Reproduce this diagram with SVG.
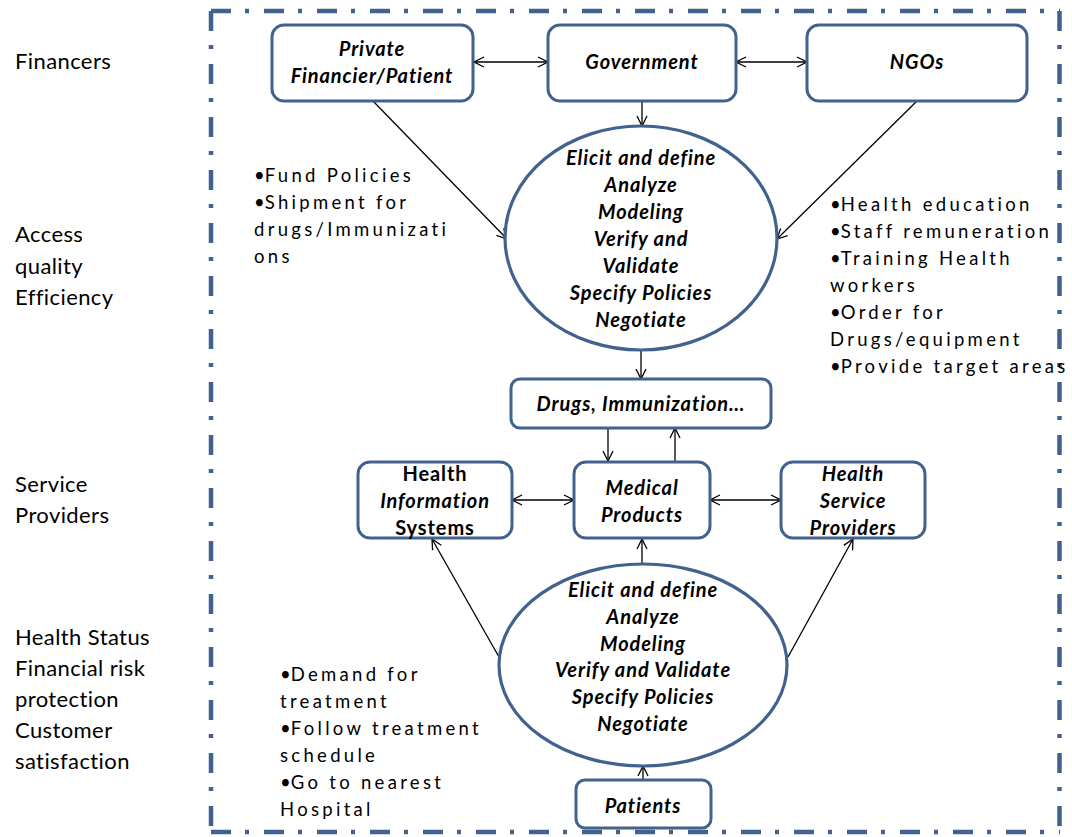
<svg xmlns="http://www.w3.org/2000/svg" width="1072" height="837" viewBox="0 0 1072 837">
  <style>
    .frame { fill: none; stroke: #41628f; stroke-width: 4.5; stroke-dasharray: 20 14 4 15; }
    .box { fill: #ffffff; stroke: #41628f; stroke-width: 3; }
    .oval { fill: #ffffff; stroke: #41628f; stroke-width: 3.2; }
    .lbl { font-family: Lato, "Liberation Sans", sans-serif; font-size: 22px; letter-spacing: 0.4px; fill: #000; }
    .note { font-family: Lato, "Liberation Sans", sans-serif; font-size: 18.5px; letter-spacing: 3.3px; fill: #000; }
    .dot { letter-spacing: 0; }
    .bi { font-family: Lato, "Liberation Sans", sans-serif; font-size: 20px; letter-spacing: 0.9px; font-weight: bold; font-style: italic; fill: #000; text-anchor: middle; }
    .b { font-style: normal; }
    .conn { stroke: #000; stroke-width: 1.3; fill: none; }
  </style>
  <defs>
    <marker id="arrow" viewBox="0 0 12 12" refX="11" refY="6" markerWidth="12" markerHeight="12" markerUnits="userSpaceOnUse" orient="auto-start-reverse">
      <path d="M1,1 L11,6 L1,11" fill="none" stroke="#000" stroke-width="1.3"/>
    </marker>
  </defs>

  <rect width="1072" height="837" fill="#ffffff"/>

  <!-- dash-dot boundary -->
  <path class="frame" d="M211,11 H1060"/>
  <path class="frame" d="M211,832 H1060"/>
  <path class="frame" d="M211,11 V832"/>
  <path class="frame" d="M1059.5,11 V832"/>

  <!-- row labels -->
  <g id="row-labels">
    <text class="lbl" x="15" y="69">Financers</text>
    <text class="lbl" x="15" y="242">Access</text>
    <text class="lbl" x="15" y="274">quality</text>
    <text class="lbl" x="15" y="305">Efficiency</text>
    <text class="lbl" x="15" y="492">Service</text>
    <text class="lbl" x="15" y="523">Providers</text>
    <text class="lbl" x="15" y="645">Health Status</text>
    <text class="lbl" x="15" y="676">Financial risk</text>
    <text class="lbl" x="15" y="707">protection</text>
    <text class="lbl" x="15" y="738">Customer</text>
    <text class="lbl" x="15" y="769">satisfaction</text>
  </g>

  <!-- connectors -->
  <g id="connectors">
    <line class="conn" x1="474" y1="62" x2="548" y2="62" marker-start="url(#arrow)" marker-end="url(#arrow)"/>
    <line class="conn" x1="736" y1="62" x2="807" y2="62" marker-start="url(#arrow)" marker-end="url(#arrow)"/>
    <line class="conn" x1="642" y1="101" x2="642" y2="126" marker-end="url(#arrow)"/>
    <line class="conn" x1="373" y1="101" x2="507" y2="239" marker-end="url(#arrow)"/>
    <line class="conn" x1="917" y1="101" x2="777" y2="239" marker-end="url(#arrow)"/>
    <line class="conn" x1="641" y1="350" x2="641" y2="379" marker-end="url(#arrow)"/>
    <line class="conn" x1="608" y1="428" x2="608" y2="461" marker-end="url(#arrow)"/>
    <line class="conn" x1="675" y1="461" x2="675" y2="428" marker-end="url(#arrow)"/>
    <line class="conn" x1="512" y1="500" x2="574" y2="500" marker-start="url(#arrow)" marker-end="url(#arrow)"/>
    <line class="conn" x1="710" y1="500" x2="781" y2="500" marker-start="url(#arrow)" marker-end="url(#arrow)"/>
    <line class="conn" x1="642" y1="563" x2="642" y2="539" marker-end="url(#arrow)"/>
    <line class="conn" x1="499" y1="657" x2="432" y2="539" marker-end="url(#arrow)"/>
    <line class="conn" x1="788" y1="657" x2="853" y2="539" marker-end="url(#arrow)"/>
    <line class="conn" x1="643" y1="780" x2="643" y2="766" marker-end="url(#arrow)"/>
  </g>

  <!-- financers -->
  <g id="private-financier">
    <rect class="box" x="272" y="25" width="201" height="76" rx="12"/>
    <text class="bi" x="372" y="56">Private</text>
    <text class="bi" x="372" y="83">Financier/Patient</text>
  </g>
  <g id="government">
    <rect class="box" x="548" y="25" width="188" height="76" rx="12"/>
    <text class="bi" x="642" y="69">Government</text>
  </g>
  <g id="ngos">
    <rect class="box" x="807" y="25" width="220" height="76" rx="12"/>
    <text class="bi" x="917" y="69">NGOs</text>
  </g>

  <!-- upper process -->
  <g id="process-upper">
    <ellipse class="oval" cx="641" cy="238" rx="136" ry="112"/>
    <text class="bi" x="641" y="165">Elicit and define</text>
    <text class="bi" x="641" y="192">Analyze</text>
    <text class="bi" x="641" y="219">Modeling</text>
    <text class="bi" x="641" y="246">Verify and</text>
    <text class="bi" x="641" y="273">Validate</text>
    <text class="bi" x="641" y="300">Specify Policies</text>
    <text class="bi" x="641" y="327">Negotiate</text>
  </g>

  <g id="notes-financier">
    <text class="note" x="254" y="182"><tspan class="dot">•</tspan>Fund Policies</text>
    <text class="note" x="254" y="209"><tspan class="dot">•</tspan>Shipment for</text>
    <text class="note" x="254" y="236">drugs/Immunizati</text>
    <text class="note" x="254" y="263">ons</text>
  </g>

  <g id="notes-ngo">
    <text class="note" x="830" y="211"><tspan class="dot">•</tspan>Health education</text>
    <text class="note" x="830" y="238"><tspan class="dot">•</tspan>Staff remuneration</text>
    <text class="note" x="830" y="265"><tspan class="dot">•</tspan>Training Health</text>
    <text class="note" x="830" y="292">workers</text>
    <text class="note" x="830" y="319"><tspan class="dot">•</tspan>Order for</text>
    <text class="note" x="830" y="346">Drugs/equipment</text>
    <text class="note" x="830" y="373"><tspan class="dot">•</tspan>Provide target areas</text>
  </g>

  <g id="drugs">
    <rect class="box" x="511" y="379" width="260" height="49" rx="9"/>
    <text class="bi" x="641" y="411">Drugs, Immunization…</text>
  </g>

  <!-- service providers -->
  <g id="health-information-systems">
    <rect class="box" x="358" y="462" width="154" height="76" rx="12"/>
    <text class="bi b" x="435" y="481">Health</text>
    <text class="bi" x="435" y="508">Information</text>
    <text class="bi b" x="435" y="535">Systems</text>
  </g>
  <g id="medical-products">
    <rect class="box" x="574" y="462" width="136" height="76" rx="12"/>
    <text class="bi" x="642" y="495">Medical</text>
    <text class="bi" x="642" y="522">Products</text>
  </g>
  <g id="health-service-providers">
    <rect class="box" x="781" y="462" width="144" height="76" rx="12"/>
    <text class="bi" x="853" y="481">Health</text>
    <text class="bi" x="853" y="508">Service</text>
    <text class="bi" x="853" y="535">Providers</text>
  </g>

  <!-- lower process -->
  <g id="process-lower">
    <ellipse class="oval" cx="643" cy="665" rx="144" ry="101"/>
    <text class="bi" x="643" y="597">Elicit and define</text>
    <text class="bi" x="643" y="624">Analyze</text>
    <text class="bi" x="643" y="651">Modeling</text>
    <text class="bi" x="643" y="677">Verify and Validate</text>
    <text class="bi" x="643" y="704">Specify Policies</text>
    <text class="bi" x="643" y="731">Negotiate</text>
  </g>

  <g id="notes-patient">
    <text class="note" x="280" y="681"><tspan class="dot">•</tspan>Demand for</text>
    <text class="note" x="280" y="708">treatment</text>
    <text class="note" x="280" y="735"><tspan class="dot">•</tspan>Follow treatment</text>
    <text class="note" x="280" y="762">schedule</text>
    <text class="note" x="280" y="789"><tspan class="dot">•</tspan>Go to nearest</text>
    <text class="note" x="280" y="816">Hospital</text>
  </g>

  <g id="patients">
    <rect class="box" x="576" y="780" width="135" height="48" rx="9"/>
    <text class="bi" x="643" y="813">Patients</text>
  </g>
</svg>
